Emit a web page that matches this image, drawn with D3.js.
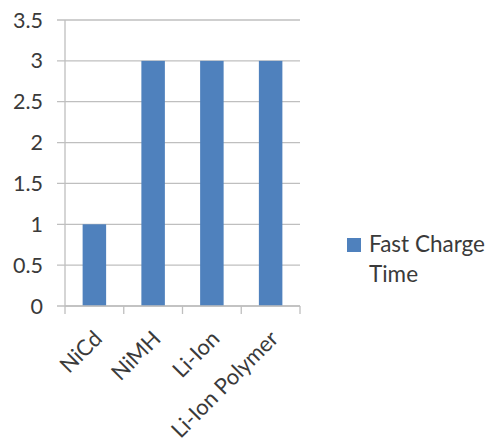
<!DOCTYPE html>
<html><head><meta charset="utf-8">
<script src="https://cdn.jsdelivr.net/npm/d3@7"></script>
<style>body{margin:0;background:#fff}svg{display:block}text{font-family:Lato,"Open Sans",sans-serif;fill:#3a3a3a}</style>
</head><body><svg id="c" width="487" height="445"></svg>
<script>
const categories = ["NiCd", "NiMH", "Li-Ion", "Li-Ion Polymer"];
const values = [1, 3, 3, 3];
const seriesName = "Fast Charge Time";
const yTicks = [0, 0.5, 1, 1.5, 2, 2.5, 3, 3.5];

(function () {
const svg = d3.select("#c");
const mL = 65, mR = 300, mT = 20, mB = 306;
const x = d3.scaleBand().domain(categories).range([mL, mR]).paddingInner(0.6).paddingOuter(0.3);
const y = d3.scaleLinear().domain([0, 3.5]).range([mB, mT]);

svg.append("g").selectAll("line").data(yTicks).join("line")
  .attr("x1", mL - 8).attr("x2", mR).attr("y1", d => y(d)).attr("y2", d => y(d))
  .attr("stroke", "#bfbfbf").attr("stroke-width", 1.3);

svg.append("line").attr("x1", mL).attr("x2", mL).attr("y1", mT).attr("y2", mB)
  .attr("stroke", "#bfbfbf").attr("stroke-width", 1.3);

svg.append("g").selectAll("text").data(yTicks).join("text")
  .attr("x", 43).attr("y", d => y(d)).attr("dy", "0.35em").attr("text-anchor", "end")
  .style("font-size", "21.5px").text(d => d);

svg.append("g").selectAll("rect").data(values).join("rect")
  .attr("x", (d, i) => x(categories[i])).attr("width", x.bandwidth())
  .attr("y", d => y(d)).attr("height", d => y(0) - y(d))
  .attr("fill", "#4f81bd");

const step = (mR - mL) / categories.length;
svg.append("line").attr("x1", mL).attr("x2", mR).attr("y1", mB).attr("y2", mB)
  .attr("stroke", "#bfbfbf").attr("stroke-width", 1.3);
svg.append("g").selectAll("line").data(d3.range(categories.length + 1)).join("line")
  .attr("x1", i => mL + i * step).attr("x2", i => mL + i * step)
  .attr("y1", mB).attr("y2", mB + 8).attr("stroke", "#bfbfbf").attr("stroke-width", 1.3);

svg.append("g").selectAll("text").data(categories).join("text")
  .attr("transform", d => `translate(${x(d) + x.bandwidth() / 2 + 9},${mB + 34}) rotate(-45)`)
  .attr("text-anchor", "end").style("font-size", "22px").text(d => d);

svg.append("rect").attr("x", 347).attr("y", 238).attr("width", 14).attr("height", 14).attr("fill", "#4f81bd");
const lt = svg.append("text").attr("x", 369).attr("y", 252).style("font-size", "22.5px");
lt.append("tspan").attr("x", 369).text("Fast Charge");
lt.append("tspan").attr("x", 369).attr("dy", 30).text("Time");
})();
</script></body></html>
